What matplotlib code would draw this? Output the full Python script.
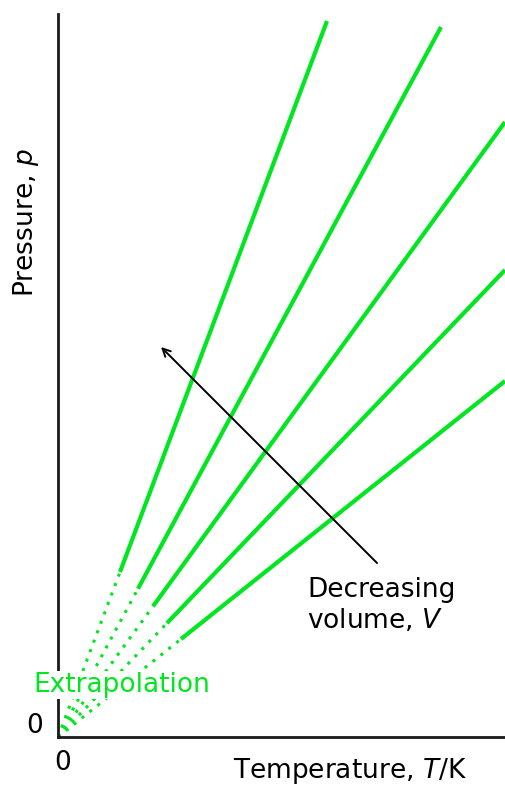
import numpy as np
import matplotlib.pyplot as plt

plt.rcParams['font.family'] = ['DejaVu Sans']

# isochores (T and p in plot units, origin at 0,0)
T_end = [269, 383, 447, 447, 447]
p_end = [716, 710, 615, 467, 356]
T_measured_from = [62, 80, 95, 109, 123]   # below this the line is extrapolated

green = '#00e620'

fig = plt.figure(figsize=(5.05, 7.89), dpi=100)
ax = fig.add_axes([58/505, 52/789, 447/505, 723/789])
ax.set_xlim(0, 447)
ax.set_ylim(0, 723)

for te, pe, ts in zip(T_end, p_end, T_measured_from):
    slope = pe / te
    ax.plot([0, ts], [0, slope*ts], color=green, lw=2.2,
            linestyle=(0, (1, 2.3)), solid_capstyle='round')
    ax.plot([ts, te], [slope*ts, pe], color=green, lw=3, solid_capstyle='butt')

ax.annotate('', xy=(103, 390), xytext=(319, 174),
            arrowprops=dict(arrowstyle='->', color='black', lw=1.4,
                            mutation_scale=14, shrinkA=0, shrinkB=0))

for s in ['top', 'right']:
    ax.spines[s].set_visible(False)
for s in ['left', 'bottom']:
    ax.spines[s].set_linewidth(2)
    ax.spines[s].set_color('#1a1a1a')
ax.set_xticks([])
ax.set_yticks([])

fs = 19
ax.text(249, 140, 'Decreasing', fontsize=fs, ha='left', va='baseline')
ax.text(249, 109, 'volume, $V$', fontsize=fs, ha='left', va='baseline')
ax.text(-25, 45, 'Extrapolation', fontsize=fs, color=green, ha='left', va='baseline',
        bbox=dict(facecolor='white', edgecolor='none', pad=0.5), zorder=5)
ax.text(-23, 11, '0', fontsize=fs, ha='center', va='center', clip_on=False)
ax.text(5, -26, '0', fontsize=fs, ha='center', va='center', clip_on=False)
ax.text(292, -41, 'Temperature, $T$/K', fontsize=fs, ha='center', va='baseline', clip_on=False)
ax.text(-32, 514, 'Pressure, $p$', fontsize=fs, rotation=90, ha='center', va='center', clip_on=False)

fig.savefig('out.png', dpi=100)
